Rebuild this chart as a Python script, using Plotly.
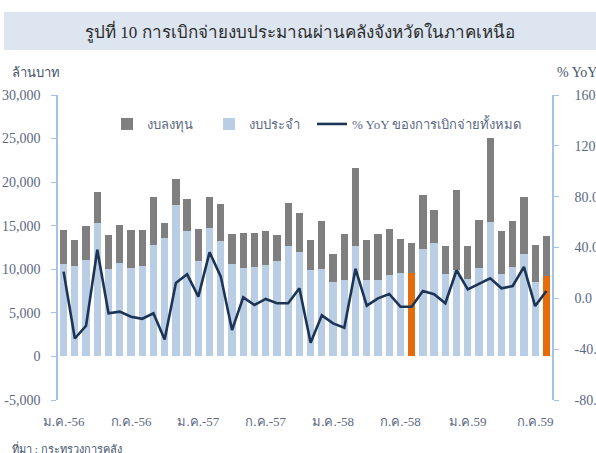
import plotly.graph_objects as go

months = [
    "ม.ค.-56", "ก.พ.-56", "มี.ค.-56", "เม.ย.-56", "พ.ค.-56", "มิ.ย.-56",
    "ก.ค.-56", "ส.ค.-56", "ก.ย.-56", "ต.ค.-56", "พ.ย.-56", "ธ.ค.-56",
    "ม.ค.-57", "ก.พ.-57", "มี.ค.-57", "เม.ย.-57", "พ.ค.-57", "มิ.ย.-57",
    "ก.ค.-57", "ส.ค.-57", "ก.ย.-57", "ต.ค.-57", "พ.ย.-57", "ธ.ค.-57",
    "ม.ค.-58", "ก.พ.-58", "มี.ค.-58", "เม.ย.-58", "พ.ค.-58", "มิ.ย.-58",
    "ก.ค.-58", "ส.ค.-58", "ก.ย.-58", "ต.ค.-58", "พ.ย.-58", "ธ.ค.-58",
    "ม.ค.-59", "ก.พ.-59", "มี.ค.-59", "เม.ย.-59", "พ.ค.-59", "มิ.ย.-59",
    "ก.ค.-59", "ส.ค.-59",
]

# งบประจำ (current budget), million baht
regular = [
    10630, 10330, 11060, 15340, 10060, 10710, 10140, 10410, 12780, 13620, 17370, 14350,
    10980, 14690, 13270, 10600, 10140, 10250, 10520, 10940, 12700, 11970, 9870, 10060,
    8570, 8720, 12620, 8720, 8800, 9330, 9600, 9560, 12360, 13010, 9490, 9950,
    8880, 10140, 15420, 9490, 10210, 11780, 8570, 9260,
]

# งบลงทุน (capital budget), million baht
capital = [
    3910, 3060, 3940, 3480, 3900, 4320, 4320, 4050, 5540, 1640, 3020, 3710,
    3630, 3630, 4210, 3440, 3980, 3940, 3900, 3020, 4900, 4520, 3440, 5510,
    3210, 5360, 8960, 4590, 5240, 5320, 3870, 3480, 6190, 3820, 3170, 9100,
    3780, 5470, 9600, 4930, 5280, 6540, 4170, 4590,
]

# % YoY of total disbursement
yoy = [
    21.0, -31.6, -21.6, 38.2, -11.8, -10.5, -14.5, -16.1, -11.8, -32.4, 12.0, 18.9,
    1.3, 36.3, 17.1, -25.0, 0.8, -5.3, -0.5, -3.9, -3.9, 7.9, -35.0, -13.4,
    -19.7, -23.2, 23.2, -5.8, 0.0, 3.4, -6.6, -6.6, 5.8, 3.2, -3.9, 22.1,
    7.1, 11.3, 15.8, 7.9, 9.7, 24.7, -6.1, 5.8,
]

highlight_months = ["ส.ค.-58", "ส.ค.-59"]

x_tick_cats = ["ม.ค.-56", "ก.ค.-56", "ม.ค.-57", "ก.ค.-57", "ม.ค.-58", "ก.ค.-58", "ม.ค.-59", "ก.ค.-59"]
x_tick_text = ["ม.ค.-56", "ก.ค.-56", "ม.ค.-57", "ก.ค.-57", "ม.ค.-58", "ก.ค.-58", "ม.ค.59", "ก.ค.59"]

left_ticks = [-5000, 0, 5000, 10000, 15000, 20000, 25000, 30000]
left_text = ["-5,000", "0", "5,000", "10,000", "15,000", "20,000", "25,000", "30,000"]
right_ticks = [-80, -40, 0, 40, 80, 120, 160]
right_text = ["-80.0", "-40.0", "0.0", "40.0", "80.0", "120.0", "160.0"]

W, H = 596, 453
BLUE = "#b9cde5"
GREY = "#7f7f7f"
ORANGE = "#e46c0a"
NAVY = "#1c3557"
AXIS = "#a7c2e6"
TXT = "#5b6883"
SERIF = "Liberation Serif, DejaVu Serif, serif"

px0, px1 = 58, 552
py_top, py_bot = 95, 400
xd = [px0 / W, px1 / W]
yd = [1 - py_bot / H, 1 - py_top / H]
lrange = [-5000, 30000]
zero_pos = yd[0] + (0 - lrange[0]) / (lrange[1] - lrange[0]) * (yd[1] - yd[0])
n = len(months)

blue_colors = [ORANGE if m in highlight_months else BLUE for m in months]

fig = go.Figure()
fig.add_trace(go.Bar(x=months, y=regular, name="งบประจำ", marker=dict(color=blue_colors, line_width=0),
                     legend="legend2", showlegend=False))
fig.add_trace(go.Bar(x=months, y=capital, name="งบลงทุน", marker=dict(color=GREY, line_width=0),
                     legend="legend"))
# legend entry for the light-blue series
fig.add_trace(go.Bar(x=[None], y=[None], name="งบประจำ", marker=dict(color=BLUE), legend="legend2"))
fig.add_trace(go.Scatter(x=months, y=yoy, name="% YoY ของการเบิกจ่ายทั้งหมด", yaxis="y2", mode="lines",
                         line=dict(color=NAVY, width=2.6), legend="legend3"))

leg_common = dict(y=1 - 124 / H, xanchor="left", yanchor="middle", orientation="h",
                  bgcolor="rgba(0,0,0,0)", font=dict(size=13, color=TXT))

fig.update_layout(
    template="none",
    width=W, height=H,
    margin=dict(l=0, r=0, t=0, b=0, autoexpand=False),
    paper_bgcolor="white", plot_bgcolor="white",
    barmode="stack", bargap=0.35,
    showlegend=True,
    font=dict(family=SERIF, color=TXT, size=14),
    xaxis=dict(domain=xd, type="category", range=[-0.5, n - 0.5], automargin=False,
               tickmode="array", tickvals=x_tick_cats, ticktext=x_tick_text,
               ticks="", showline=False, showgrid=False, zeroline=False,
               ticklabelstandoff=12, tickfont=dict(size=13, color=TXT)),
    xaxis3=dict(domain=xd, overlaying="x", anchor="free", position=zero_pos, type="linear",
                range=[-0.5, n - 0.5], tickmode="array", automargin=False,
                tickvals=[i - 0.5 for i in range(0, n, 3)],
                showticklabels=False, ticks="outside", ticklen=6, tickcolor=AXIS,
                showline=True, linecolor=AXIS, linewidth=1.5, showgrid=False, zeroline=False),
    yaxis=dict(domain=yd, range=lrange, tickmode="array", tickvals=left_ticks, ticktext=left_text,
               automargin=False,
               showline=True, linecolor=AXIS, linewidth=1.5, ticks="outside", ticklen=5, tickcolor=AXIS,
               showgrid=False, zeroline=False, ticklabelstandoff=8, tickfont=dict(size=14, color=TXT)),
    yaxis2=dict(domain=yd, overlaying="y", side="right", range=[-80, 160], tickmode="array",
                tickvals=right_ticks, ticktext=right_text, automargin=False,
                showline=True, linecolor=AXIS, linewidth=1.5, ticks="outside", ticklen=5, tickcolor=AXIS,
                showgrid=False, zeroline=False, ticklabelstandoff=13, tickfont=dict(size=14, color=TXT)),
    legend=dict(x=107 / W, **leg_common),
    legend2=dict(x=209 / W, **leg_common),
    legend3=dict(x=312 / W, **leg_common),
    shapes=[dict(type="rect", xref="paper", yref="paper", x0=4 / W, x1=1, y0=1 - 50 / H, y1=1 - 12 / H,
                 fillcolor="#dce5f0", line_width=0, layer="below")],
    annotations=[
        dict(text="รูปที่ 10 การเบิกจ่ายงบประมาณผ่านคลังจังหวัดในภาคเหนือ", xref="paper", yref="paper",
             x=300 / W, y=1 - 31 / H, xanchor="center", yanchor="middle", showarrow=False,
             font=dict(size=17, color="#2b2b2b")),
        dict(text="ล้านบาท", xref="paper", yref="paper", x=10 / W, y=1 - 73 / H,
             xanchor="left", yanchor="middle", showarrow=False, font=dict(size=13, color="#44546a")),
        dict(text="% YoY", xref="paper", yref="paper", x=555 / W, y=1 - 73 / H,
             xanchor="left", yanchor="middle", showarrow=False, font=dict(size=14, color="#44546a")),
        dict(text="ที่มา : กระทรวงการคลัง", xref="paper", yref="paper", x=10 / W, y=1 - 448 / H,
             xanchor="left", yanchor="middle", showarrow=False, font=dict(size=11, color="#44546a")),
    ],
)

fig.write_html("out.html", config={"displayModeBar": False},
               post_script="document.body.style.margin='0';document.body.style.overflow='hidden';")
